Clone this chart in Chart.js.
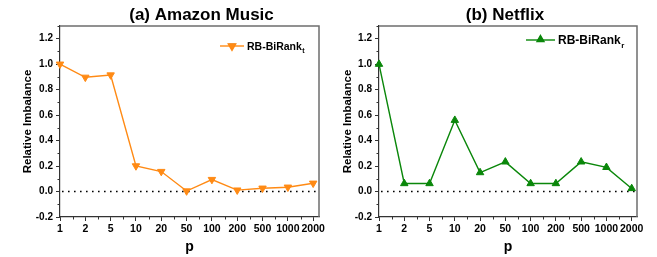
<!DOCTYPE html>
<html>
<head>
<meta charset="utf-8">
<script src="https://cdn.jsdelivr.net/npm/chart.js@4.4.1/dist/chart.umd.min.js"></script>
<style>
  html, body { margin: 0; padding: 0; background: #fff; }
  body { width: 657px; height: 257px; position: relative; overflow: hidden; }
  .box { position: absolute; top: 0; }
  canvas { display: block; }
</style>
</head>
<body>
<div class="box" style="left:0px;width:330px;height:257px"><canvas id="c1" width="330" height="257"></canvas></div>
<div class="box" style="left:330px;width:327px;height:257px"><canvas id="c2" width="327" height="257"></canvas></div>
<script>
// ---- data ----
const pLabels = ["1", "2", "5", "10", "20", "50", "100", "200", "500", "1000", "2000"];
const amazonValues = [1.0, 0.897, 0.915, 0.201, 0.157, 0.004, 0.094, 0.011, 0.026, 0.034, 0.065];
const netflixValues = [1.0, 0.063, 0.063, 0.56, 0.149, 0.233, 0.063, 0.063, 0.233, 0.19, 0.024];
const yTickValues = [-0.2, 0.0, 0.2, 0.4, 0.6, 0.8, 1.0, 1.2];
const yMinorValues = [-0.1, 0.1, 0.3, 0.5, 0.7, 0.9, 1.1, 1.3];
const titles = ["(a) Amazon Music", "(b) Netflix"];
const seriesNames = ["RB-BiRank", "RB-BiRank"];
const seriesSubs = ["t", "r"];

const FONT = "'Liberation Sans', Arial, Helvetica, sans-serif";
const AXIS_COLOR = '#333333';
const FRAME_COLOR = '#6e6e6e';

const framePlugin = {
  id: 'frame',
  beforeDatasetsDraw(chart) {
    const {ctx, chartArea: a, scales} = chart;
    const y0 = scales.y.getPixelForValue(0);
    ctx.save();
    ctx.strokeStyle = '#000';
    ctx.lineWidth = 1.6;
    ctx.setLineDash([1.6, 4.4]);
    ctx.beginPath();
    ctx.moveTo(a.left + 2, y0);
    ctx.lineTo(a.right, y0);
    ctx.stroke();
    ctx.restore();
  },
  afterDraw(chart, args, opts) {
    const {ctx, chartArea: a, scales} = chart;
    ctx.save();
    // frame top/right
    ctx.strokeStyle = FRAME_COLOR;
    ctx.lineWidth = 1.5;
    ctx.beginPath();
    ctx.moveTo(a.left, a.top);
    ctx.lineTo(a.right, a.top);
    ctx.lineTo(a.right, a.bottom);
    ctx.stroke();
    // minor ticks
    ctx.strokeStyle = AXIS_COLOR;
    ctx.lineWidth = 1;
    ctx.beginPath();
    yMinorValues.forEach(v => {
      const py = Math.round(scales.y.getPixelForValue(v)) + 0.5;
      if (py < a.top - 1 || py > a.bottom + 1) return;
      ctx.moveTo(a.left, py);
      ctx.lineTo(a.left - 2.5, py);
    });
    for (let i = 0; i < pLabels.length; i++) {
      const v = i + 0.5;
      if (v > scales.x.max) continue;
      const px = Math.round(scales.x.getPixelForValue(v)) + 0.5;
      ctx.moveTo(px, a.bottom);
      ctx.lineTo(px, a.bottom + 2.5);
    }
    ctx.stroke();
    // title
    ctx.fillStyle = '#000';
    ctx.font = 'bold 17px ' + FONT;
    ctx.textAlign = 'center';
    ctx.textBaseline = 'alphabetic';
    ctx.fillText(opts.title, (a.left + a.right) / 2 + opts.titleDx, 19.5);
    // legend
    const ds = chart.data.datasets[0];
    const L = opts.legend;
    ctx.strokeStyle = ds.borderColor;
    ctx.lineWidth = ds.borderWidth;
    ctx.beginPath();
    ctx.moveTo(L.x0, L.y);
    ctx.lineTo(L.x1, L.y);
    ctx.stroke();
    Chart.helpers.drawPoint(ctx, {
      pointStyle: 'triangle', rotation: ds.pointRotation || 0,
      radius: L.r, borderWidth: 1
    }, (L.x0 + L.x1) / 2, L.y + (ds.pointRotation ? 0 : -0.5));
    ctx.fillStyle = ds.borderColor;
    ctx.fill();
    ctx.fillStyle = '#000';
    ctx.textAlign = 'left';
    ctx.textBaseline = 'alphabetic';
    ctx.font = 'bold ' + L.fs + 'px ' + FONT;
    ctx.fillText(opts.name, L.tx, L.y + L.fs * 0.36);
    const w = ctx.measureText(opts.name).width;
    ctx.font = 'bold ' + Math.round(L.fs * 0.68) + 'px ' + FONT;
    ctx.fillText(opts.sub, L.tx + w + 0.5, L.y + L.fs * 0.36 + L.fs * 0.28);
    ctx.restore();
  }
};

function makeChart(id, values, color, rotation, cfg) {
  const data = values.map((v, i) => ({x: i, y: v}));
  return new Chart(document.getElementById(id), {
    type: 'line',
    data: {
      datasets: [{
        data: data,
        borderColor: color,
        backgroundColor: color,
        borderWidth: 1.4,
        pointStyle: 'triangle',
        pointRotation: rotation,
        pointRadius: 4.3,
        pointBorderWidth: 1,
        pointBackgroundColor: color,
        pointBorderColor: color,
        tension: 0,
        clip: false
      }]
    },
    options: {
      responsive: false,
      animation: false,
      devicePixelRatio: 1,
      layout: { padding: { top: 26, right: cfg.padRight, bottom: 0, left: 0 } },
      plugins: {
        legend: { display: false },
        tooltip: { enabled: false },
        frame: cfg.frame
      },
      scales: {
        x: {
          type: 'linear',
          min: 0,
          max: cfg.xMax,
          afterBuildTicks: s => { s.ticks = pLabels.map((_, i) => ({value: i})); },
          afterFit: s => { s.height = 40; },
          ticks: {
            autoSkip: false,
            maxRotation: 0,
            padding: 2,
            color: '#000',
            font: { family: FONT, size: 10.5, weight: 'bold' },
            callback: v => pLabels[v]
          },
          grid: { display: true, drawOnChartArea: false, drawTicks: true, tickLength: 4, color: AXIS_COLOR },
          border: { display: true, color: AXIS_COLOR, width: 1.2 },
          title: {
            display: true, text: 'p', color: '#000',
            font: { family: FONT, size: 14, weight: 'bold' },
            padding: { top: 0, bottom: 1 }
          }
        },
        y: {
          type: 'linear',
          min: -0.2,
          max: 1.3,
          afterBuildTicks: s => { s.ticks = yTickValues.map(v => ({value: v})); },
          afterFit: s => { s.width = cfg.yWidth; },
          ticks: {
            padding: 3,
            color: '#000',
            font: { family: FONT, size: 10, weight: 'bold' },
            callback: v => v.toFixed(1)
          },
          grid: { display: true, drawOnChartArea: false, drawTicks: true, tickLength: 4, color: AXIS_COLOR },
          border: { display: true, color: AXIS_COLOR, width: 1.2 },
          title: {
            display: true, text: 'Relative Imbalance', color: '#000',
            font: { family: FONT, size: 11.5, weight: 'bold' },
            padding: { top: cfg.yTitlePad, bottom: 0 }
          }
        }
      }
    },
    plugins: [framePlugin]
  });
}

makeChart('c1', amazonValues, '#ff8a14', 180, {
  padRight: 11, yWidth: 60, xMax: 10.23, yTitlePad: 20.5,
  frame: {
    title: titles[0], titleDx: 12, name: seriesNames[0], sub: seriesSubs[0],
    legend: { x0: 220, x1: 244, y: 46, r: 4.3, tx: 247, fs: 10.5 }
  }
});
makeChart('c2', netflixValues, '#0a870a', 0, {
  padRight: 20, yWidth: 49, xMax: 10.21, yTitlePad: 10.5,
  frame: {
    title: titles[1], titleDx: -3, name: seriesNames[1], sub: seriesSubs[1],
    legend: { x0: 196, x1: 225, y: 40, r: 4, tx: 228, fs: 12 }
  }
});
</script>
</body>
</html>
